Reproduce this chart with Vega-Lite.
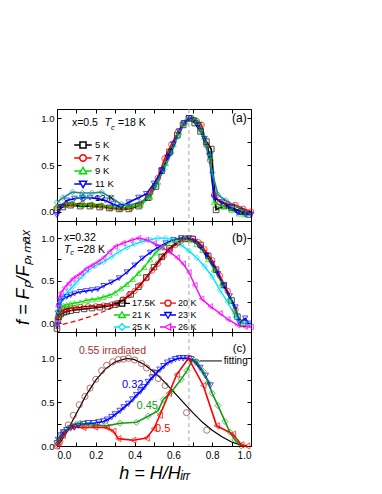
{
"$schema": "https://vega.github.io/schema/vega-lite/v6.json",
"padding": {"left": 14, "top": 108, "right": 5, "bottom": 5},
"background": "white",
"spacing": 0,
"bounds": "flush",
"config": {
  "font": "Liberation Sans",
  "view": {"stroke": "black", "strokeWidth": 1},
  "axis": {"domain": false, "grid": false, "tickColor": "black", "tickSize": -4, "labelPadding": 7, "labelFontSize": 9.5, "labelColor": "black", "labelFont": "Liberation Sans", "titleFont": "Liberation Sans", "titleColor": "black", "titleFontWeight": "normal"},
  "legend": {"labelFont": "Liberation Sans", "labelColor": "black"}
},
"resolve": {"scale": {"color": "independent", "shape": "independent"}, "legend": {"color": "independent", "shape": "independent"}},
"datasets": {
"a": [
{"s":"5 K","x":0.0,"y":0.02},{"s":"5 K","x":0.03,"y":0.05},{"s":"5 K","x":0.07,"y":0.07},{"s":"5 K","x":0.12,"y":0.06},{"s":"5 K","x":0.17,"y":0.06},{"s":"5 K","x":0.22,"y":0.05},{"s":"5 K","x":0.27,"y":0.04},{"s":"5 K","x":0.32,"y":0.03},{"s":"5 K","x":0.37,"y":0.03},{"s":"5 K","x":0.42,"y":0.06},{"s":"5 K","x":0.47,"y":0.15},{"s":"5 K","x":0.51,"y":0.27},{"s":"5 K","x":0.54,"y":0.44},{"s":"5 K","x":0.58,"y":0.64},{"s":"5 K","x":0.62,"y":0.82},{"s":"5 K","x":0.65,"y":0.93},{"s":"5 K","x":0.68,"y":1.0},{"s":"5 K","x":0.71,"y":0.95},{"s":"5 K","x":0.74,"y":0.86},{"s":"5 K","x":0.77,"y":0.75},{"s":"5 K","x":0.795,"y":0.67},{"s":"5 K","x":0.82,"y":0.02},{"s":"5 K","x":0.86,"y":0.06},{"s":"5 K","x":0.9,"y":0.04},{"s":"5 K","x":0.95,"y":0.0},{"s":"5 K","x":0.99,"y":-0.03},
{"s":"7 K","x":0.0,"y":0.04},{"s":"7 K","x":0.04,"y":0.07},{"s":"7 K","x":0.08,"y":0.08},{"s":"7 K","x":0.13,"y":0.08},{"s":"7 K","x":0.18,"y":0.07},{"s":"7 K","x":0.23,"y":0.06},{"s":"7 K","x":0.28,"y":0.04},{"s":"7 K","x":0.33,"y":0.03},{"s":"7 K","x":0.38,"y":0.04},{"s":"7 K","x":0.43,"y":0.08},{"s":"7 K","x":0.48,"y":0.2},{"s":"7 K","x":0.52,"y":0.36},{"s":"7 K","x":0.555,"y":0.57},{"s":"7 K","x":0.59,"y":0.72},{"s":"7 K","x":0.625,"y":0.86},{"s":"7 K","x":0.655,"y":0.95},{"s":"7 K","x":0.69,"y":1.0},{"s":"7 K","x":0.72,"y":0.97},{"s":"7 K","x":0.745,"y":0.93},{"s":"7 K","x":0.77,"y":0.72},{"s":"7 K","x":0.79,"y":0.55},{"s":"7 K","x":0.81,"y":0.18},{"s":"7 K","x":0.84,"y":0.1},{"s":"7 K","x":0.88,"y":0.08},{"s":"7 K","x":0.92,"y":0.07},{"s":"7 K","x":0.96,"y":0.03},{"s":"7 K","x":1.0,"y":0.0},
{"s":"9 K","x":0.0,"y":0.06},{"s":"9 K","x":0.04,"y":0.08},{"s":"9 K","x":0.08,"y":0.09},{"s":"9 K","x":0.13,"y":0.07},{"s":"9 K","x":0.18,"y":0.08},{"s":"9 K","x":0.23,"y":0.07},{"s":"9 K","x":0.28,"y":0.05},{"s":"9 K","x":0.33,"y":0.04},{"s":"9 K","x":0.38,"y":0.05},{"s":"9 K","x":0.43,"y":0.07},{"s":"9 K","x":0.48,"y":0.16},{"s":"9 K","x":0.52,"y":0.32},{"s":"9 K","x":0.56,"y":0.52},{"s":"9 K","x":0.6,"y":0.72},{"s":"9 K","x":0.63,"y":0.85},{"s":"9 K","x":0.66,"y":0.96},{"s":"9 K","x":0.7,"y":1.01},{"s":"9 K","x":0.73,"y":0.96},{"s":"9 K","x":0.76,"y":0.8},{"s":"9 K","x":0.79,"y":0.6},{"s":"9 K","x":0.81,"y":0.1},{"s":"9 K","x":0.85,"y":0.06},{"s":"9 K","x":0.9,"y":0.02},{"s":"9 K","x":0.94,"y":-0.02},{"s":"9 K","x":0.97,"y":-0.03},
{"s":"11 K","x":0.0,"y":-0.04},{"s":"11 K","x":0.02,"y":0.05},{"s":"11 K","x":0.05,"y":0.12},{"s":"11 K","x":0.09,"y":0.14},{"s":"11 K","x":0.13,"y":0.15},{"s":"11 K","x":0.17,"y":0.15},{"s":"11 K","x":0.21,"y":0.14},{"s":"11 K","x":0.25,"y":0.12},{"s":"11 K","x":0.29,"y":0.08},{"s":"11 K","x":0.33,"y":0.05},{"s":"11 K","x":0.37,"y":0.1},{"s":"11 K","x":0.42,"y":0.15},{"s":"11 K","x":0.46,"y":0.19},{"s":"11 K","x":0.5,"y":0.3},{"s":"11 K","x":0.54,"y":0.44},{"s":"11 K","x":0.57,"y":0.58},{"s":"11 K","x":0.6,"y":0.72},{"s":"11 K","x":0.63,"y":0.86},{"s":"11 K","x":0.655,"y":0.95},{"s":"11 K","x":0.68,"y":1.0},{"s":"11 K","x":0.705,"y":0.98},{"s":"11 K","x":0.73,"y":0.93},{"s":"11 K","x":0.76,"y":0.78},{"s":"11 K","x":0.785,"y":0.6},{"s":"11 K","x":0.81,"y":0.15},{"s":"11 K","x":0.85,"y":0.1},{"s":"11 K","x":0.89,"y":0.05},{"s":"11 K","x":0.93,"y":-0.01},{"s":"11 K","x":0.97,"y":-0.03},{"s":"11 K","x":1.0,"y":-0.03},
{"s":"12 K","x":0.0,"y":0.1},{"s":"12 K","x":0.03,"y":0.15},{"s":"12 K","x":0.08,"y":0.21},{"s":"12 K","x":0.13,"y":0.2},{"s":"12 K","x":0.18,"y":0.2},{"s":"12 K","x":0.23,"y":0.21},{"s":"12 K","x":0.28,"y":0.15},{"s":"12 K","x":0.33,"y":0.08},{"s":"12 K","x":0.38,"y":0.07},{"s":"12 K","x":0.43,"y":0.1},{"s":"12 K","x":0.47,"y":0.15},{"s":"12 K","x":0.51,"y":0.28},{"s":"12 K","x":0.55,"y":0.45},{"s":"12 K","x":0.59,"y":0.63},{"s":"12 K","x":0.62,"y":0.8},{"s":"12 K","x":0.65,"y":0.93},{"s":"12 K","x":0.68,"y":0.99},{"s":"12 K","x":0.71,"y":0.97},{"s":"12 K","x":0.74,"y":0.87},{"s":"12 K","x":0.77,"y":0.7},{"s":"12 K","x":0.8,"y":0.42},{"s":"12 K","x":0.83,"y":0.18},{"s":"12 K","x":0.87,"y":0.12},{"s":"12 K","x":0.91,"y":0.07},{"s":"12 K","x":0.95,"y":0.03},{"s":"12 K","x":0.98,"y":-0.02}
],
"b": [
{"s":"17.5K","x":0.0,"y":-0.06},{"s":"17.5K","x":0.005,"y":0.04},{"s":"17.5K","x":0.01,"y":0.08},{"s":"17.5K","x":0.02,"y":0.11},{"s":"17.5K","x":0.035,"y":0.13},{"s":"17.5K","x":0.05,"y":0.14},{"s":"17.5K","x":0.07,"y":0.15},{"s":"17.5K","x":0.1,"y":0.16},{"s":"17.5K","x":0.14,"y":0.17},{"s":"17.5K","x":0.18,"y":0.18},{"s":"17.5K","x":0.22,"y":0.19},{"s":"17.5K","x":0.26,"y":0.2},{"s":"17.5K","x":0.3,"y":0.22},{"s":"17.5K","x":0.34,"y":0.27},{"s":"17.5K","x":0.38,"y":0.34},{"s":"17.5K","x":0.42,"y":0.43},{"s":"17.5K","x":0.46,"y":0.54},{"s":"17.5K","x":0.5,"y":0.66},{"s":"17.5K","x":0.54,"y":0.78},{"s":"17.5K","x":0.58,"y":0.88},{"s":"17.5K","x":0.62,"y":0.95},{"s":"17.5K","x":0.66,"y":0.99},{"s":"17.5K","x":0.7,"y":0.99},{"s":"17.5K","x":0.74,"y":0.92},{"s":"17.5K","x":0.78,"y":0.79},{"s":"17.5K","x":0.82,"y":0.63},{"s":"17.5K","x":0.86,"y":0.45},{"s":"17.5K","x":0.9,"y":0.27},{"s":"17.5K","x":0.93,"y":0.08},{"s":"17.5K","x":0.96,"y":0.0},
{"s":"20 K","x":0.0,"y":-0.03},{"s":"20 K","x":0.005,"y":0.07},{"s":"20 K","x":0.01,"y":0.11},{"s":"20 K","x":0.02,"y":0.14},{"s":"20 K","x":0.035,"y":0.16},{"s":"20 K","x":0.05,"y":0.17},{"s":"20 K","x":0.07,"y":0.18},{"s":"20 K","x":0.09,"y":0.18},{"s":"20 K","x":0.12,"y":0.19},{"s":"20 K","x":0.16,"y":0.2},{"s":"20 K","x":0.2,"y":0.2},{"s":"20 K","x":0.24,"y":0.21},{"s":"20 K","x":0.28,"y":0.22},{"s":"20 K","x":0.31,"y":0.24},{"s":"20 K","x":0.34,"y":0.28},{"s":"20 K","x":0.37,"y":0.33},{"s":"20 K","x":0.4,"y":0.38},{"s":"20 K","x":0.43,"y":0.45},{"s":"20 K","x":0.46,"y":0.53},{"s":"20 K","x":0.49,"y":0.62},{"s":"20 K","x":0.52,"y":0.7},{"s":"20 K","x":0.55,"y":0.79},{"s":"20 K","x":0.58,"y":0.86},{"s":"20 K","x":0.61,"y":0.92},{"s":"20 K","x":0.64,"y":0.97},{"s":"20 K","x":0.67,"y":0.99},{"s":"20 K","x":0.7,"y":0.99},{"s":"20 K","x":0.73,"y":0.95},{"s":"20 K","x":0.76,"y":0.87},{"s":"20 K","x":0.8,"y":0.74},{"s":"20 K","x":0.84,"y":0.56},{"s":"20 K","x":0.88,"y":0.38},{"s":"20 K","x":0.92,"y":0.16},{"s":"20 K","x":0.95,"y":-0.01},
{"s":"21 K","x":0.0,"y":0.0},{"s":"21 K","x":0.005,"y":0.1},{"s":"21 K","x":0.01,"y":0.15},{"s":"21 K","x":0.02,"y":0.19},{"s":"21 K","x":0.035,"y":0.21},{"s":"21 K","x":0.05,"y":0.22},{"s":"21 K","x":0.07,"y":0.23},{"s":"21 K","x":0.09,"y":0.24},{"s":"21 K","x":0.12,"y":0.25},{"s":"21 K","x":0.15,"y":0.27},{"s":"21 K","x":0.18,"y":0.28},{"s":"21 K","x":0.21,"y":0.29},{"s":"21 K","x":0.24,"y":0.31},{"s":"21 K","x":0.27,"y":0.33},{"s":"21 K","x":0.3,"y":0.36},{"s":"21 K","x":0.33,"y":0.41},{"s":"21 K","x":0.36,"y":0.46},{"s":"21 K","x":0.39,"y":0.52},{"s":"21 K","x":0.42,"y":0.59},{"s":"21 K","x":0.45,"y":0.66},{"s":"21 K","x":0.48,"y":0.75},{"s":"21 K","x":0.51,"y":0.83},{"s":"21 K","x":0.54,"y":0.89},{"s":"21 K","x":0.57,"y":0.94},{"s":"21 K","x":0.6,"y":0.98},{"s":"21 K","x":0.63,"y":1.0},{"s":"21 K","x":0.66,"y":1.0},{"s":"21 K","x":0.69,"y":0.98},{"s":"21 K","x":0.72,"y":0.93},{"s":"21 K","x":0.75,"y":0.86},{"s":"21 K","x":0.78,"y":0.75},{"s":"21 K","x":0.81,"y":0.63},{"s":"21 K","x":0.85,"y":0.47},{"s":"21 K","x":0.89,"y":0.3},{"s":"21 K","x":0.92,"y":0.14},{"s":"21 K","x":0.95,"y":0.0},
{"s":"23 K","x":0.0,"y":-0.02},{"s":"23 K","x":0.005,"y":0.12},{"s":"23 K","x":0.01,"y":0.2},{"s":"23 K","x":0.02,"y":0.26},{"s":"23 K","x":0.03,"y":0.29},{"s":"23 K","x":0.05,"y":0.31},{"s":"23 K","x":0.07,"y":0.33},{"s":"23 K","x":0.09,"y":0.35},{"s":"23 K","x":0.12,"y":0.37},{"s":"23 K","x":0.15,"y":0.38},{"s":"23 K","x":0.18,"y":0.39},{"s":"23 K","x":0.21,"y":0.4},{"s":"23 K","x":0.24,"y":0.44},{"s":"23 K","x":0.28,"y":0.48},{"s":"23 K","x":0.32,"y":0.53},{"s":"23 K","x":0.36,"y":0.6},{"s":"23 K","x":0.4,"y":0.68},{"s":"23 K","x":0.44,"y":0.76},{"s":"23 K","x":0.48,"y":0.83},{"s":"23 K","x":0.52,"y":0.89},{"s":"23 K","x":0.56,"y":0.94},{"s":"23 K","x":0.6,"y":0.98},{"s":"23 K","x":0.64,"y":1.0},{"s":"23 K","x":0.68,"y":1.0},{"s":"23 K","x":0.71,"y":0.96},{"s":"23 K","x":0.74,"y":0.89},{"s":"23 K","x":0.77,"y":0.8},{"s":"23 K","x":0.8,"y":0.7},{"s":"23 K","x":0.83,"y":0.58},{"s":"23 K","x":0.86,"y":0.44},{"s":"23 K","x":0.89,"y":0.32},{"s":"23 K","x":0.92,"y":0.19},{"s":"23 K","x":0.94,"y":0.01},{"s":"23 K","x":0.97,"y":0.06},{"s":"23 K","x":0.99,"y":0.0},
{"s":"25 K","x":0.0,"y":0.0},{"s":"25 K","x":0.005,"y":0.15},{"s":"25 K","x":0.01,"y":0.23},{"s":"25 K","x":0.02,"y":0.28},{"s":"25 K","x":0.04,"y":0.33},{"s":"25 K","x":0.06,"y":0.38},{"s":"25 K","x":0.08,"y":0.43},{"s":"25 K","x":0.1,"y":0.48},{"s":"25 K","x":0.13,"y":0.55},{"s":"25 K","x":0.16,"y":0.62},{"s":"25 K","x":0.2,"y":0.68},{"s":"25 K","x":0.24,"y":0.72},{"s":"25 K","x":0.28,"y":0.78},{"s":"25 K","x":0.32,"y":0.84},{"s":"25 K","x":0.36,"y":0.89},{"s":"25 K","x":0.4,"y":0.93},{"s":"25 K","x":0.44,"y":0.96},{"s":"25 K","x":0.48,"y":0.98},{"s":"25 K","x":0.52,"y":1.0},{"s":"25 K","x":0.56,"y":1.0},{"s":"25 K","x":0.6,"y":0.98},{"s":"25 K","x":0.64,"y":0.92},{"s":"25 K","x":0.68,"y":0.85},{"s":"25 K","x":0.72,"y":0.77},{"s":"25 K","x":0.76,"y":0.67},{"s":"25 K","x":0.8,"y":0.55},{"s":"25 K","x":0.84,"y":0.39},{"s":"25 K","x":0.88,"y":0.25},{"s":"25 K","x":0.92,"y":0.08},{"s":"25 K","x":0.95,"y":0.01},{"s":"25 K","x":0.98,"y":0.0},
{"s":"26 K","x":0.0,"y":0.0},{"s":"26 K","x":0.005,"y":0.2},{"s":"26 K","x":0.01,"y":0.3},{"s":"26 K","x":0.02,"y":0.36},{"s":"26 K","x":0.04,"y":0.42},{"s":"26 K","x":0.06,"y":0.47},{"s":"26 K","x":0.08,"y":0.52},{"s":"26 K","x":0.1,"y":0.55},{"s":"26 K","x":0.125,"y":0.59},{"s":"26 K","x":0.15,"y":0.64},{"s":"26 K","x":0.18,"y":0.68},{"s":"26 K","x":0.21,"y":0.72},{"s":"26 K","x":0.24,"y":0.77},{"s":"26 K","x":0.27,"y":0.84},{"s":"26 K","x":0.3,"y":0.9},{"s":"26 K","x":0.34,"y":0.94},{"s":"26 K","x":0.38,"y":0.97},{"s":"26 K","x":0.42,"y":1.0},{"s":"26 K","x":0.46,"y":0.98},{"s":"26 K","x":0.5,"y":0.94},{"s":"26 K","x":0.54,"y":0.89},{"s":"26 K","x":0.58,"y":0.84},{"s":"26 K","x":0.62,"y":0.77},{"s":"26 K","x":0.65,"y":0.7},{"s":"26 K","x":0.68,"y":0.6},{"s":"26 K","x":0.71,"y":0.45},{"s":"26 K","x":0.745,"y":0.29},{"s":"26 K","x":0.79,"y":0.2},{"s":"26 K","x":0.84,"y":0.12},{"s":"26 K","x":0.88,"y":0.05},{"s":"26 K","x":0.93,"y":-0.02},{"s":"26 K","x":0.97,"y":-0.04},{"s":"26 K","x":1.0,"y":-0.04}
],
"bfit": [
{"x":0.03,"y":-0.01},{"x":0.1,"y":0.03},{"x":0.17,"y":0.08},{"x":0.24,"y":0.14},{"x":0.32,"y":0.22}
],
"c": [
{"s":"0.55 irradiated","x":0.0,"y":0.0},{"s":"0.55 irradiated","x":0.015,"y":0.05},{"s":"0.55 irradiated","x":0.033,"y":0.15},{"s":"0.55 irradiated","x":0.058,"y":0.24},{"s":"0.55 irradiated","x":0.084,"y":0.35},{"s":"0.55 irradiated","x":0.115,"y":0.47},{"s":"0.55 irradiated","x":0.144,"y":0.565},{"s":"0.55 irradiated","x":0.17,"y":0.66},{"s":"0.55 irradiated","x":0.2,"y":0.76},{"s":"0.55 irradiated","x":0.23,"y":0.86},{"s":"0.55 irradiated","x":0.256,"y":0.92},{"s":"0.55 irradiated","x":0.287,"y":0.96},{"s":"0.55 irradiated","x":0.316,"y":0.985},{"s":"0.55 irradiated","x":0.342,"y":0.99},{"s":"0.55 irradiated","x":0.368,"y":1.0},{"s":"0.55 irradiated","x":0.4,"y":0.98},{"s":"0.55 irradiated","x":0.436,"y":0.94},{"s":"0.55 irradiated","x":0.462,"y":0.89},{"s":"0.55 irradiated","x":0.497,"y":0.84},{"s":"0.55 irradiated","x":0.522,"y":0.77},{"s":"0.55 irradiated","x":0.557,"y":0.69},{"s":"0.55 irradiated","x":0.668,"y":0.38},{"s":"0.55 irradiated","x":0.772,"y":0.18},
{"s":"0.32","x":0.0,"y":0.03},{"s":"0.32","x":0.007,"y":0.07},{"s":"0.32","x":0.02,"y":0.12},{"s":"0.32","x":0.033,"y":0.155},{"s":"0.32","x":0.05,"y":0.18},{"s":"0.32","x":0.07,"y":0.2},{"s":"0.32","x":0.09,"y":0.21},{"s":"0.32","x":0.11,"y":0.23},{"s":"0.32","x":0.136,"y":0.25},{"s":"0.32","x":0.16,"y":0.26},{"s":"0.32","x":0.19,"y":0.26},{"s":"0.32","x":0.215,"y":0.27},{"s":"0.32","x":0.24,"y":0.28},{"s":"0.32","x":0.26,"y":0.3},{"s":"0.32","x":0.282,"y":0.33},{"s":"0.32","x":0.3,"y":0.36},{"s":"0.32","x":0.325,"y":0.4},{"s":"0.32","x":0.345,"y":0.44},{"s":"0.32","x":0.368,"y":0.48},{"s":"0.32","x":0.39,"y":0.53},{"s":"0.32","x":0.41,"y":0.58},{"s":"0.32","x":0.43,"y":0.62},{"s":"0.32","x":0.45,"y":0.67},{"s":"0.32","x":0.47,"y":0.73},{"s":"0.32","x":0.49,"y":0.78},{"s":"0.32","x":0.51,"y":0.83},{"s":"0.32","x":0.53,"y":0.87},{"s":"0.32","x":0.55,"y":0.91},{"s":"0.32","x":0.57,"y":0.95},{"s":"0.32","x":0.59,"y":0.97},{"s":"0.32","x":0.61,"y":0.99},{"s":"0.32","x":0.63,"y":1.0},{"s":"0.32","x":0.65,"y":1.0},{"s":"0.32","x":0.67,"y":1.0},{"s":"0.32","x":0.69,"y":0.99},{"s":"0.32","x":0.715,"y":0.95},{"s":"0.32","x":0.737,"y":0.89},{"s":"0.32","x":0.765,"y":0.8},{"s":"0.32","x":0.79,"y":0.69},
{"s":"0.45","x":0.0,"y":0.04},{"s":"0.45","x":0.01,"y":0.08},{"s":"0.45","x":0.033,"y":0.14},{"s":"0.45","x":0.055,"y":0.2},{"s":"0.45","x":0.076,"y":0.23},{"s":"0.45","x":0.1,"y":0.25},{"s":"0.45","x":0.12,"y":0.26},{"s":"0.45","x":0.14,"y":0.25},{"s":"0.45","x":0.17,"y":0.24},{"s":"0.45","x":0.2,"y":0.24},{"s":"0.45","x":0.256,"y":0.23},{"s":"0.45","x":0.325,"y":0.26},{"s":"0.45","x":0.41,"y":0.27},{"s":"0.45","x":0.47,"y":0.34},{"s":"0.45","x":0.52,"y":0.4},{"s":"0.45","x":0.548,"y":0.53},{"s":"0.45","x":0.59,"y":0.62},{"s":"0.45","x":0.64,"y":0.76},{"s":"0.45","x":0.67,"y":0.86},{"s":"0.45","x":0.7,"y":0.99},{"s":"0.45","x":0.72,"y":0.96},{"s":"0.45","x":0.754,"y":0.85},{"s":"0.45","x":0.78,"y":0.72},{"s":"0.45","x":0.8,"y":0.6},{"s":"0.45","x":0.83,"y":0.46},{"s":"0.45","x":0.866,"y":0.28},{"s":"0.45","x":0.89,"y":0.16},{"s":"0.45","x":0.917,"y":0.07},{"s":"0.45","x":0.95,"y":0.0},
{"s":"0.5","x":0.0,"y":0.0},{"s":"0.5","x":0.007,"y":0.03},{"s":"0.5","x":0.03,"y":0.12},{"s":"0.5","x":0.076,"y":0.22},{"s":"0.5","x":0.136,"y":0.21},{"s":"0.5","x":0.196,"y":0.215},{"s":"0.5","x":0.256,"y":0.21},{"s":"0.5","x":0.29,"y":0.17},{"s":"0.5","x":0.316,"y":0.084},{"s":"0.5","x":0.393,"y":0.066},{"s":"0.5","x":0.462,"y":0.09},{"s":"0.5","x":0.5,"y":0.2},{"s":"0.5","x":0.53,"y":0.35},{"s":"0.5","x":0.577,"y":0.6},{"s":"0.5","x":0.617,"y":0.815},{"s":"0.5","x":0.678,"y":1.0},{"s":"0.5","x":0.754,"y":0.69},{"s":"0.5","x":0.823,"y":0.23},{"s":"0.5","x":0.907,"y":0.135},{"s":"0.5","x":0.95,"y":0.015},{"s":"0.5","x":0.98,"y":0.0}
],
"cfit": [
{"x":0.0,"y":0.0},{"x":0.02,"y":0.05},{"x":0.05,"y":0.16},{"x":0.1,"y":0.37},{"x":0.15,"y":0.58},{"x":0.2,"y":0.75},{"x":0.25,"y":0.88},{"x":0.3,"y":0.96},{"x":0.36,"y":1.0},{"x":0.4,"y":0.985},{"x":0.45,"y":0.93},{"x":0.5,"y":0.845},{"x":0.55,"y":0.74},{"x":0.6,"y":0.62},{"x":0.65,"y":0.5},{"x":0.7,"y":0.38},{"x":0.75,"y":0.27},{"x":0.8,"y":0.18},{"x":0.85,"y":0.105},{"x":0.9,"y":0.045},{"x":0.95,"y":0.01},{"x":0.97,"y":0.0}
]
},
"vconcat": [
{
 "width": 194, "height": 112,
 "resolve": {"scale": {"color": "independent", "shape": "independent"}, "axis": {"x": "independent", "y": "independent"}},
 "layer": [
  {"data": {"values": [{}]}, "mark": {"type": "rule", "color": "#a8a8a8", "strokeDash": [4, 3], "strokeWidth": 1},
   "encoding": {"x": {"datum": 0.68, "type": "quantitative", "scale": {"domain": [0, 1]}, "axis": {"orient": "top", "values": [0,0.1,0.2,0.3,0.4,0.5,0.6,0.7,0.8,0.9,1], "labels": false, "title": null}}}},
  {"data": {"name": "a"}, "mark": {"type": "line", "strokeWidth": 1.7},
   "encoding": {
    "x": {"field": "x", "type": "quantitative", "scale": {"domain": [0, 1]}, "axis": {"orient": "bottom", "values": [0,0.1,0.2,0.3,0.4,0.5,0.6,0.7,0.8,0.9,1], "labels": false, "title": null}},
    "y": {"field": "y", "type": "quantitative", "scale": {"domain": [-0.06, 1.1]}, "axis": {"orient": "left", "values": [0,0.25,0.5,0.75,1], "labelExpr": "datum.value==0.25||datum.value==0.75?'':format(datum.value,'.1f')", "title": null}},
    "color": {"field": "s", "type": "nominal", "scale": {"domain": ["5 K","7 K","9 K","11 K","12 K"], "range": ["#000000","#ff0000","#00e000","#0000ff","#1a9090"]}, "legend": null}}},
  {"data": {"name": "a"}, "mark": {"type": "point", "filled": false, "size": 32, "strokeWidth": 1},
   "encoding": {
    "x": {"field": "x", "type": "quantitative", "axis": null},
    "y": {"field": "y", "type": "quantitative", "axis": null},
    "color": {"field": "s", "type": "nominal", "scale": {"domain": ["5 K","7 K","9 K","11 K","12 K"], "range": ["#000000","#ff0000","#00e000","#0000ff","#1a9090"]}, "legend": null},
    "shape": {"field": "s", "type": "nominal", "scale": {"domain": ["5 K","7 K","9 K","11 K","12 K"], "range": ["square","circle","triangle-up","triangle-down","diamond"]}, "legend": null}}},
  {"data": {"name": "a"}, "mark": {"type": "point", "filled": false, "opacity": 0, "strokeWidth": 1.3},
   "encoding": {
    "x": {"field": "x", "type": "quantitative", "axis": null},
    "y": {"field": "y", "type": "quantitative", "axis": null},
    "color": {"field": "s", "type": "nominal", "scale": {"domain": ["5 K","7 K","9 K","11 K","12 K"], "range": ["#000000","#ff0000","#00e000","#0000ff","#1a9090"]},
      "legend": {"orient": "none", "legendX": 19.5, "legendY": 29.5, "title": null, "symbolSize": 120, "symbolStrokeWidth": 1.5, "symbolOpacity": 1, "symbolFillColor": "transparent", "labelFontSize": 9.5, "labelOffset": 5.5, "rowPadding": -3, "padding": 0}},
    "shape": {"field": "s", "type": "nominal", "scale": {"domain": ["5 K","7 K","9 K","11 K","12 K"], "range": ["M-1.6,0H-0.55M0.55,0H1.6M-0.55,-0.55H0.55V0.55H-0.55Z","M-1.6,0H-0.6M0.6,0H1.6M-0.6,0A0.6,0.6,0,1,1,0.6,0A0.6,0.6,0,1,1,-0.6,0Z","M-1.6,0H-0.37M0.37,0H1.6M0,-0.65L0.65,0.5H-0.65Z","M-1.6,0H-0.37M0.37,0H1.6M0,0.65L0.65,-0.5H-0.65Z","M-1.6,0H-0.65M0.65,0H1.6M0,-0.65L0.65,0L0,0.65L-0.65,0Z"]},
      "legend": {"orient": "none", "legendX": 19.5, "legendY": 29.5, "title": null, "symbolSize": 120, "symbolStrokeWidth": 1.5, "symbolOpacity": 1, "symbolFillColor": "transparent", "labelFontSize": 9.5, "labelOffset": 5.5, "rowPadding": -3, "padding": 0}}}},
  {"data": {"values": [{}]}, "mark": {"type": "text", "fontSize": 12, "align": "center", "baseline": "middle"},
   "encoding": {"x": {"datum": 0.94, "type": "quantitative", "axis": null}, "y": {"datum": 1.0, "type": "quantitative", "axis": {"orient": "right", "values": [0,0.25,0.5,0.75,1], "labels": false, "title": null}}, "text": {"value": "(a)"}}},
  {"data": {"values": [{}]}, "mark": {"type": "text", "fontSize": 10.5, "align": "left", "baseline": "middle"},
   "encoding": {"x": {"datum": 0.077, "type": "quantitative", "axis": null}, "y": {"datum": 0.945, "type": "quantitative", "axis": null}, "text": {"value": "x=0.5"}}},
  {"data": {"values": [{}]}, "mark": {"type": "text", "fontSize": 11, "fontStyle": "italic", "align": "left", "baseline": "middle"},
   "encoding": {"x": {"datum": 0.245, "type": "quantitative", "axis": null}, "y": {"datum": 0.945, "type": "quantitative", "axis": null}, "text": {"value": "T"}}},
  {"data": {"values": [{}]}, "mark": {"type": "text", "fontSize": 7.5, "fontStyle": "italic", "align": "left", "baseline": "middle"},
   "encoding": {"x": {"datum": 0.278, "type": "quantitative", "axis": null}, "y": {"datum": 0.9, "type": "quantitative", "axis": null}, "text": {"value": "c"}}},
  {"data": {"values": [{}]}, "mark": {"type": "text", "fontSize": 10.5, "align": "left", "baseline": "middle"},
   "encoding": {"x": {"datum": 0.315, "type": "quantitative", "axis": null}, "y": {"datum": 0.945, "type": "quantitative", "axis": null}, "text": {"value": "=18 K"}}}
 ]
},
{
 "width": 194, "height": 111,
 "resolve": {"scale": {"color": "independent", "shape": "independent"}, "axis": {"x": "independent", "y": "independent"}},
 "layer": [
  {"data": {"values": [{}]}, "mark": {"type": "rule", "color": "#a8a8a8", "strokeDash": [4, 3], "strokeWidth": 1},
   "encoding": {"x": {"datum": 0.68, "type": "quantitative", "scale": {"domain": [0, 1]}, "axis": {"orient": "top", "values": [0,0.1,0.2,0.3,0.4,0.5,0.6,0.7,0.8,0.9,1], "labels": false, "title": null}}}},
  {"data": {"name": "bfit"}, "mark": {"type": "line", "strokeWidth": 1.3, "color": "#ff0000", "strokeDash": [5, 3]},
   "encoding": {"x": {"field": "x", "type": "quantitative", "axis": null}, "y": {"field": "y", "type": "quantitative", "axis": null}}},
  {"data": {"name": "b"}, "mark": {"type": "line", "strokeWidth": 1.4},
   "encoding": {
    "x": {"field": "x", "type": "quantitative", "scale": {"domain": [0, 1]}, "axis": {"orient": "bottom", "values": [0,0.1,0.2,0.3,0.4,0.5,0.6,0.7,0.8,0.9,1], "labels": false, "title": null}},
    "y": {"field": "y", "type": "quantitative", "scale": {"domain": [-0.08, 1.12]}, "axis": {"orient": "left", "values": [0,0.25,0.5,0.75,1], "labelExpr": "datum.value==0.25||datum.value==0.75?'':format(datum.value,'.1f')", "title": "f = Fₚ/Fₚ,ₘₐₓ", "titleFontSize": 18, "titleFontStyle": "italic", "titlePadding": 8}},
    "color": {"field": "s", "type": "nominal", "scale": {"domain": ["17.5K","20 K","21 K","23 K","25 K","26 K"], "range": ["#000000","#ff0000","#00dd00","#0000ff","#00e5ff","#ff00ff"]}, "legend": null}}},
  {"data": {"name": "b"}, "mark": {"type": "point", "filled": false, "size": 30, "strokeWidth": 1},
   "encoding": {
    "x": {"field": "x", "type": "quantitative", "axis": null},
    "y": {"field": "y", "type": "quantitative", "axis": null},
    "color": {"field": "s", "type": "nominal", "scale": {"domain": ["17.5K","20 K","21 K","23 K","25 K","26 K"], "range": ["#000000","#ff0000","#00dd00","#0000ff","#00e5ff","#ff00ff"]}, "legend": null},
    "shape": {"field": "s", "type": "nominal", "scale": {"domain": ["17.5K","20 K","21 K","23 K","25 K","26 K"], "range": ["square","circle","triangle-up","triangle-down","diamond","triangle-left"]}, "legend": null}}},
  {"data": {"name": "b"}, "mark": {"type": "point", "filled": false, "opacity": 0, "strokeWidth": 1.3},
   "encoding": {
    "x": {"field": "x", "type": "quantitative", "axis": null},
    "y": {"field": "y", "type": "quantitative", "axis": null},
    "color": {"field": "s", "type": "nominal", "scale": {"domain": ["17.5K","20 K","21 K","23 K","25 K","26 K"], "range": ["#000000","#ff0000","#00dd00","#0000ff","#00e5ff","#ff00ff"]},
      "legend": {"orient": "none", "direction": "horizontal", "legendX": 59, "legendY": 76, "columns": 2, "columnPadding": 1, "title": null, "symbolSize": 100, "symbolStrokeWidth": 1.3, "symbolOpacity": 1, "symbolFillColor": "transparent", "labelFontSize": 9, "labelOffset": 4, "rowPadding": -4, "padding": 0}},
    "shape": {"field": "s", "type": "nominal", "scale": {"domain": ["17.5K","20 K","21 K","23 K","25 K","26 K"], "range": ["M-1.6,0H-0.55M0.55,0H1.6M-0.55,-0.55H0.55V0.55H-0.55Z","M-1.6,0H-0.6M0.6,0H1.6M-0.6,0A0.6,0.6,0,1,1,0.6,0A0.6,0.6,0,1,1,-0.6,0Z","M-1.6,0H-0.37M0.37,0H1.6M0,-0.65L0.65,0.5H-0.65Z","M-1.6,0H-0.37M0.37,0H1.6M0,0.65L0.65,-0.5H-0.65Z","M-1.6,0H-0.65M0.65,0H1.6M0,-0.65L0.65,0L0,0.65L-0.65,0Z","M-1.6,0H-0.65M0.55,0H1.6M-0.65,0L0.55,-0.65V0.65Z"]},
      "legend": {"orient": "none", "direction": "horizontal", "legendX": 59, "legendY": 76, "columns": 2, "columnPadding": 1, "title": null, "symbolSize": 100, "symbolStrokeWidth": 1.3, "symbolOpacity": 1, "symbolFillColor": "transparent", "labelFontSize": 9, "labelOffset": 4, "rowPadding": -4, "padding": 0}}}},
  {"data": {"values": [{}]}, "mark": {"type": "text", "fontSize": 12, "align": "center", "baseline": "middle"},
   "encoding": {"x": {"datum": 0.94, "type": "quantitative", "axis": null}, "y": {"datum": 1.0, "type": "quantitative", "axis": {"orient": "right", "values": [0,0.25,0.5,0.75,1], "labels": false, "title": null}}, "text": {"value": "(b)"}}},
  {"data": {"values": [{}]}, "mark": {"type": "text", "fontSize": 10.5, "align": "left", "baseline": "middle"},
   "encoding": {"x": {"datum": 0.036, "type": "quantitative", "axis": null}, "y": {"datum": 1.0, "type": "quantitative", "axis": null}, "text": {"value": "x=0.32"}}},
  {"data": {"values": [{}]}, "mark": {"type": "text", "fontSize": 11, "fontStyle": "italic", "align": "left", "baseline": "middle"},
   "encoding": {"x": {"datum": 0.036, "type": "quantitative", "axis": null}, "y": {"datum": 0.865, "type": "quantitative", "axis": null}, "text": {"value": "T"}}},
  {"data": {"values": [{}]}, "mark": {"type": "text", "fontSize": 7.5, "fontStyle": "italic", "align": "left", "baseline": "middle"},
   "encoding": {"x": {"datum": 0.068, "type": "quantitative", "axis": null}, "y": {"datum": 0.82, "type": "quantitative", "axis": null}, "text": {"value": "c"}}},
  {"data": {"values": [{}]}, "mark": {"type": "text", "fontSize": 10.5, "align": "left", "baseline": "middle"},
   "encoding": {"x": {"datum": 0.105, "type": "quantitative", "axis": null}, "y": {"datum": 0.865, "type": "quantitative", "axis": null}, "text": {"value": "=28 K"}}}
 ]
},
{
 "width": 194, "height": 114,
 "resolve": {"scale": {"color": "independent", "shape": "independent"}, "axis": {"x": "independent", "y": "independent"}},
 "layer": [
  {"data": {"values": [{}]}, "mark": {"type": "rule", "color": "#a8a8a8", "strokeDash": [4, 3], "strokeWidth": 1},
   "encoding": {"x": {"datum": 0.68, "type": "quantitative", "scale": {"domain": [0, 1]}, "axis": {"orient": "top", "values": [0,0.1,0.2,0.3,0.4,0.5,0.6,0.7,0.8,0.9,1], "labels": false, "title": null}}}},
  {"data": {"name": "cfit"}, "mark": {"type": "line", "strokeWidth": 1.2, "color": "#000000"},
   "encoding": {"x": {"field": "x", "type": "quantitative", "axis": null}, "y": {"field": "y", "type": "quantitative", "axis": null}}},
  {"data": {"name": "c"}, "transform": [{"filter": "datum.s != '0.55 irradiated'"}], "mark": {"type": "line", "strokeWidth": 1.6},
   "encoding": {
    "x": {"field": "x", "type": "quantitative", "scale": {"domain": [0, 1]}, "axis": {"orient": "bottom", "values": [0,0.1,0.2,0.3,0.4,0.5,0.6,0.7,0.8,0.9,1], "labelExpr": "round(datum.value*10)%2==0?format(datum.value,'.1f'):''", "labelPadding": 8, "labelFontSize": 10, "title": "h = H/Hᵢᵣᵣ", "titleFontSize": 18, "titleFontStyle": "italic", "titlePadding": 4}},
    "y": {"field": "y", "type": "quantitative", "scale": {"domain": [0, 1.22]}, "axis": {"orient": "left", "values": [0,0.25,0.5,0.75,1], "labelExpr": "datum.value==0.25||datum.value==0.75?'':format(datum.value,'.1f')", "title": null}},
    "color": {"field": "s", "type": "nominal", "scale": {"domain": ["0.55 irradiated","0.32","0.45","0.5"], "range": ["#a0302c","#0000ff","#1a9a1a","#ff0000"]}, "legend": null}}},
  {"data": {"name": "c"}, "mark": {"type": "point", "filled": false, "size": 38, "strokeWidth": 1},
   "encoding": {
    "x": {"field": "x", "type": "quantitative", "axis": null},
    "y": {"field": "y", "type": "quantitative", "axis": null},
    "color": {"field": "s", "type": "nominal", "scale": {"domain": ["0.55 irradiated","0.32","0.45","0.5"], "range": ["#a0302c","#0000ff","#1a9a1a","#ff0000"]}, "legend": null},
    "shape": {"field": "s", "type": "nominal", "scale": {"domain": ["0.55 irradiated","0.32","0.45","0.5"], "range": ["circle","triangle-down","diamond","triangle-left"]}, "legend": null}}},
  {"data": {"values": [{}]}, "mark": {"type": "text", "fontSize": 11.5, "align": "center", "baseline": "middle"},
   "encoding": {"x": {"datum": 0.94, "type": "quantitative", "axis": null}, "y": {"datum": 1.105, "type": "quantitative", "axis": {"orient": "right", "values": [0,0.25,0.5,0.75,1], "labels": false, "title": null}}, "text": {"value": "(c)"}}},
  {"data": {"values": [{}]}, "mark": {"type": "text", "fontSize": 10.5, "align": "left", "baseline": "middle", "color": "#a0302c"},
   "encoding": {"x": {"datum": 0.113, "type": "quantitative", "axis": null}, "y": {"datum": 1.085, "type": "quantitative", "axis": null}, "text": {"value": "0.55 irradiated"}}},
  {"data": {"values": [{}]}, "mark": {"type": "text", "fontSize": 11, "align": "left", "baseline": "middle", "color": "#0000ff"},
   "encoding": {"x": {"datum": 0.335, "type": "quantitative", "axis": null}, "y": {"datum": 0.7, "type": "quantitative", "axis": null}, "text": {"value": "0.32"}}},
  {"data": {"values": [{}]}, "mark": {"type": "text", "fontSize": 11, "align": "left", "baseline": "middle", "color": "#1a9a1a"},
   "encoding": {"x": {"datum": 0.41, "type": "quantitative", "axis": null}, "y": {"datum": 0.455, "type": "quantitative", "axis": null}, "text": {"value": "0.45"}}},
  {"data": {"values": [{}]}, "mark": {"type": "text", "fontSize": 11, "align": "left", "baseline": "middle", "color": "#ff0000"},
   "encoding": {"x": {"datum": 0.505, "type": "quantitative", "axis": null}, "y": {"datum": 0.19, "type": "quantitative", "axis": null}, "text": {"value": "0.5"}}},
  {"data": {"values": [{}]}, "mark": {"type": "rule", "color": "#000000", "strokeWidth": 1},
   "encoding": {"x": {"datum": 0.735, "type": "quantitative", "axis": null}, "x2": {"datum": 0.85}, "y": {"datum": 0.97, "type": "quantitative", "axis": null}}},
  {"data": {"values": [{}]}, "mark": {"type": "text", "fontSize": 10, "align": "left", "baseline": "middle"},
   "encoding": {"x": {"datum": 0.86, "type": "quantitative", "axis": null}, "y": {"datum": 0.97, "type": "quantitative", "axis": null}, "text": {"value": "fitting"}}}
 ]
}
]
}
